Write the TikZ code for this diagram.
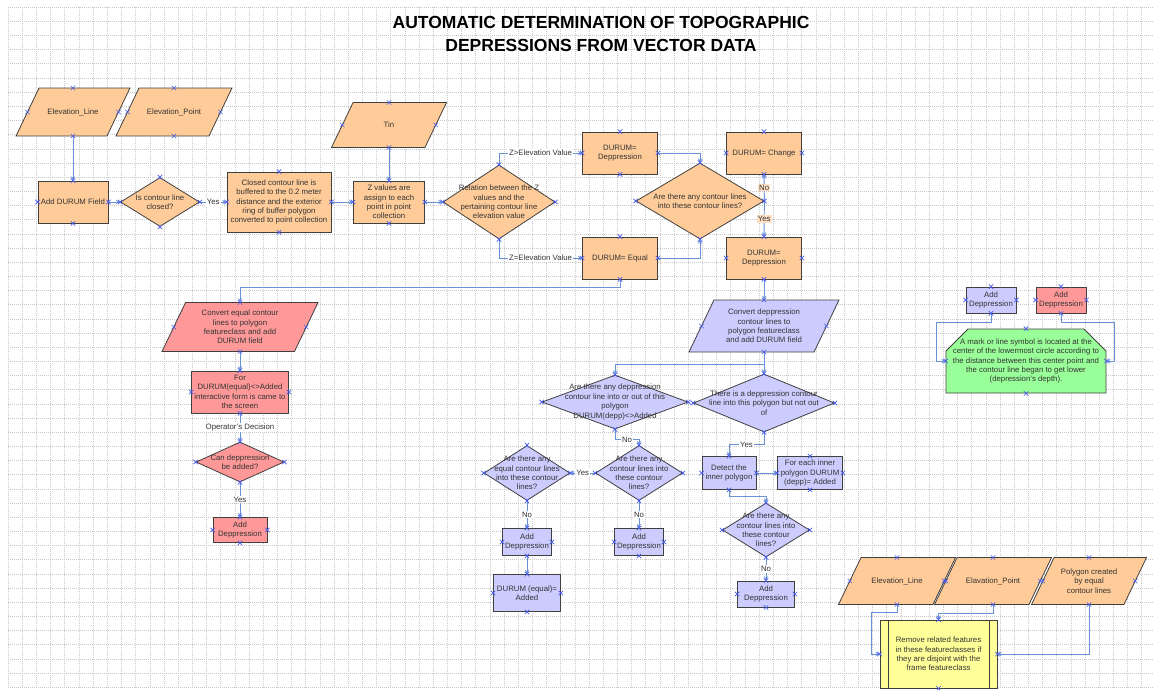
\documentclass[tikz,border=0pt]{standalone}
\usepackage{fontspec}
\setmainfont{Liberation Sans}
\usetikzlibrary{positioning, shapes.geometric, shapes.misc}

\definecolor{peach}{RGB}{255,204,153}
\definecolor{rose}{RGB}{255,153,153}
\definecolor{lilac}{RGB}{204,204,255}
\definecolor{mint}{RGB}{153,255,153}
\definecolor{lemon}{RGB}{255,255,153}
\definecolor{edge}{RGB}{64,64,64}
\definecolor{wire}{RGB}{105,145,215}
\definecolor{xblue}{RGB}{70,90,235}
\definecolor{gridgray}{RGB}{200,200,200}

% parallelogram whose slant follows its height
\makeatletter
\pgfdeclareshape{slanted}{%
  \inheritsavedanchors[from=rectangle]%
  \inheritanchorborder[from=rectangle]%
  \inheritanchor[from=rectangle]{center}%
  \inheritanchor[from=rectangle]{text}%
  \inheritanchor[from=rectangle]{north}%
  \inheritanchor[from=rectangle]{south}%
  \anchor{west}{%
    \northeast\pgf@yb=\pgf@y
    \southwest\pgf@xa=\pgf@x\pgf@ya=\pgf@y
    \pgf@x=\pgf@xa\advance\pgf@x by 0.24\pgf@yb\advance\pgf@x by -0.24\pgf@ya
    \pgf@y=.5\pgf@yb\advance\pgf@y by .5\pgf@ya}%
  \anchor{east}{%
    \southwest\pgf@ya=\pgf@y
    \northeast\pgf@xb=\pgf@x\pgf@yb=\pgf@y
    \pgf@x=\pgf@xb\advance\pgf@x by -0.24\pgf@yb\advance\pgf@x by 0.24\pgf@ya
    \pgf@y=.5\pgf@yb\advance\pgf@y by .5\pgf@ya}%
  \backgroundpath{%
    \southwest\pgf@xa=\pgf@x\pgf@ya=\pgf@y
    \northeast\pgf@xb=\pgf@x\pgf@yb=\pgf@y
    \pgf@xc=\pgf@yb\advance\pgf@xc by -\pgf@ya
    \pgf@xc=0.48\pgf@xc
    \edef\sl@left{\the\pgf@xa}\edef\sl@bot{\the\pgf@ya}%
    \edef\sl@right{\the\pgf@xb}\edef\sl@top{\the\pgf@yb}%
    \advance\pgf@xa by\pgf@xc\edef\sl@topleft{\the\pgf@xa}%
    \advance\pgf@xb by-\pgf@xc\edef\sl@botright{\the\pgf@xb}%
    \pgfpathmoveto{\pgfqpoint{\sl@left}{\sl@bot}}%
    \pgfpathlineto{\pgfqpoint{\sl@botright}{\sl@bot}}%
    \pgfpathlineto{\pgfqpoint{\sl@right}{\sl@top}}%
    \pgfpathlineto{\pgfqpoint{\sl@topleft}{\sl@top}}%
    \pgfpathclose}%
}
\makeatother

\begin{document}
\begin{tikzpicture}[
    x=1pt, y=-1pt,
    every node/.style={font=\fontsize{7.8}{9.4}\selectfont, text=black!80, align=center},
    process/.style={rectangle, draw=edge, fill=#1, line width=0.8pt, inner sep=1pt},
    iobox/.style={slanted, draw=edge, fill=#1, line width=0.8pt, inner sep=1pt, outer sep=0pt},
    decision/.style={diamond, draw=edge, fill=#1, line width=0.8pt, inner sep=0pt},
    predef/.style={rectangle, draw=edge, fill=#1, line width=0.8pt,
        path picture={\draw[edge, line width=0.8pt]
            ([xshift=8pt]path picture bounding box.north west) -- ([xshift=8pt]path picture bounding box.south west)
            ([xshift=-8pt]path picture bounding box.north east) -- ([xshift=-8pt]path picture bounding box.south east);}},
    remark/.style={chamfered rectangle, chamfered rectangle corners={north west, north east},
        chamfered rectangle xsep=9pt, chamfered rectangle ysep=13pt,
        inner xsep=-6pt, inner ysep=-8pt,
        draw=edge, fill=#1, line width=0.8pt},
    flow/.style={->, >=stealth, draw=wire, line width=0.9pt},
    flowlabel/.style={fill=white, inner sep=1pt},
    xmark/.style={draw=xblue, line width=0.6pt}
]

\useasboundingbox (0,0) rectangle (1153,689);
\foreach \i in {0,...,80}
    \draw[gridgray, dash pattern=on 1pt off 1pt, line width=0.4pt] ({8+14.17*\i},7) -- ({8+14.17*\i},689);
\foreach \j in {0,...,48}
    \draw[gridgray, dash pattern=on 1pt off 1pt, line width=0.4pt] (8,{7+14.17*\j}) -- (1153,{7+14.17*\j});

\node[font=\fontsize{17.5}{23}\selectfont\bfseries, text=black] (title) at (601,34)
    {AUTOMATIC DETERMINATION OF TOPOGRAPHIC\\DEPRESSIONS FROM VECTOR DATA};

\node[iobox=peach, minimum width=114, minimum height=48] (elevline) at (73,112) {Elevation\_Line};
\node[iobox=peach, minimum width=116, minimum height=48] (elevpoint) at (174,112) {Elevation\_Point};
\node[iobox=peach, minimum width=115, minimum height=45] (tin) at (389,125) {Tin};

\node[process=peach, minimum width=70, minimum height=42] (adddurum) at (73,202) {Add DURUM Field};
\node[decision=peach, minimum width=79, minimum height=49,
    label={center:{Is contour line\\closed?}}] (isclosed) at (160,202) {};
\node[process=peach, minimum width=104, minimum height=60] (closedbuf) at (279,202)
    {Closed contour line is\\buffered to the 0.2 meter\\distance and the exterior\\ring of buffer polygon\\converted to point collection};
\node[process=peach, minimum width=71, minimum height=42] (zvalues) at (389,202)
    {Z values are\\assign to each\\point in point\\collection};
\node[decision=peach, minimum width=112, minimum height=74,
    label={center:{Relation between the Z\\values and the\\pertaining contour line\\elevation value}}] (relation) at (499,202) {};

\node[process=peach, minimum width=75, minimum height=42] (durumdep) at (620,153) {DURUM=\\Deppression};
\node[process=peach, minimum width=75, minimum height=42] (durumeq) at (620,258) {DURUM= Equal};
\node[decision=peach, minimum width=128, minimum height=76,
    label={center:{Are there any contour lines\\into these contour lines?}}] (anylines) at (700,201) {};
\node[process=peach, minimum width=75, minimum height=42] (durumchange) at (764,153) {DURUM= Change};
\node[process=peach, minimum width=75, minimum height=42] (durumdep2) at (764,258) {DURUM=\\Deppression};

\node[iobox=rose, minimum width=156, minimum height=49] (convequal) at (240,327)
    {Convert equal contour\\lines to polygon\\featureclass and add\\DURUM field};
\node[process=rose, minimum width=97, minimum height=42] (fordurum) at (240,392)
    {For\\DURUM(equal)<>Added\\interactive form is came to\\the screen};
\node[decision=rose, minimum width=88, minimum height=40,
    label={center:{Can deppression\\be added?}}] (canadd) at (240,462) {};
\node[process=rose, minimum width=54, minimum height=25] (addred) at (240,530) {Add\\Deppression};

\node[iobox=lilac, minimum width=150, minimum height=52] (convdep) at (764,326)
    {Convert deppression\\contour lines to\\polygon featureclass\\and add DURUM field};
\node[decision=lilac, minimum width=146, minimum height=54,
    label={center:{Are there any deppression\\contour line into or out of this\\polygon\\DURUM(depp)<>Added}}] (deppinout) at (615,402) {};
\node[decision=lilac, minimum width=141, minimum height=58,
    label={center:{There is a deppression contour\\line into this polygon but not out\\of}}] (notout) at (764,403) {};
\node[decision=lilac, minimum width=86, minimum height=55,
    label={center:{Are there any\\equal contour lines\\into these contour\\lines?}}] (anyequal) at (527,473) {};
\node[decision=lilac, minimum width=87, minimum height=55,
    label={center:{Are there any\\contour lines into\\these contour\\lines?}}] (anylines2) at (639,473) {};
\node[process=lilac, minimum width=54, minimum height=33] (detect) at (729,473) {Detect the\\inner polygon};
\node[process=lilac, minimum width=65, minimum height=33] (eachinner) at (810,473)
    {For each inner\\polygon DURUM\\(depp)= Added};
\node[decision=lilac, minimum width=87, minimum height=54,
    label={center:{Are there any\\contour lines into\\these contour\\lines?}}] (anylines3) at (766,530) {};
\node[process=lilac, minimum width=49, minimum height=27] (addlav1) at (527,542) {Add\\Deppression};
\node[process=lilac, minimum width=67, minimum height=37] (equaladded) at (527,593) {DURUM (equal)=\\Added};
\node[process=lilac, minimum width=49, minimum height=27] (addlav2) at (639,542) {Add\\Deppression};
\node[process=lilac, minimum width=57, minimum height=26] (addlav3) at (766,594) {Add\\Deppression};

\node[process=lilac, minimum width=50, minimum height=26] (legendlav) at (991,300) {Add\\Deppression};
\node[process=rose, minimum width=50, minimum height=26] (legendred) at (1061,300) {Add\\Deppression};
\node[remark=mint, minimum width=160, minimum height=64] (note) at (1026,361)
    {A mark or line symbol is located at the\\center of the lowermost circle according to\\the distance between this center point and\\the contour line began to get lower\\(depression's depth).};

\node[iobox=peach, minimum width=117, minimum height=47] (elevline2) at (897,581) {Elevation\_Line};
\node[iobox=peach, minimum width=117, minimum height=47] (elevpoint2) at (993,581) {Elavation\_Point};
\node[iobox=peach, minimum width=115, minimum height=47] (polygon) at (1089,581)
    {Polygon created\\by equal\\contour lines};
\node[predef=lemon, minimum width=117, minimum height=68] (remove) at (938.5,654)
    {Remove related features\\in these featureclasses if\\they are disjoint with the\\frame featureclass};

\draw[flow] (elevline.south) -- (adddurum.north);
\draw[flow] (adddurum.east) -- (isclosed.west);
\draw[flow] (isclosed.east) -- node[flowlabel] {Yes} (closedbuf.west);
\draw[flow] (closedbuf.east) -- (zvalues.west);
\draw[flow] (tin.south) -- (zvalues.north);
\draw[flow] (zvalues.east) -- (relation.west);
\draw[flow] (relation.north) |- node[flowlabel, pos=0.75] {Z>Elevation Value} (durumdep.west);
\draw[flow] (relation.south) |- node[flowlabel, pos=0.75] {Z=Elevation Value} (durumeq.west);
\draw[flow] (durumdep.east) -| (anylines.north);
\draw[flow] (durumeq.east) -| (anylines.south);
\draw[flow] (anylines.east) -- node[flowlabel, fill=peach!60] {No} (durumchange.south);
\draw[flow] (anylines.east) -- node[flowlabel, fill=peach!60] {Yes} (durumdep2.north);

\draw[flow] (durumeq.south) -- ++(0,8) -| (convequal.north);
\draw[flow] (convequal.south) -- (fordurum.north);
\draw[flow] (fordurum.south) -- node[flowlabel] {Operator's Decision} (canadd.north);
\draw[flow] (canadd.south) -- node[flowlabel] {Yes} (addred.north);

\draw[flow] (durumdep2.south) -- (convdep.north);
\draw[flow] (convdep.south) -- ++(0,12) -| (deppinout.north);
\draw[flow] (convdep.south) -- (notout.north);
\draw[flow] (deppinout.south) -- ++(0,10) -| node[flowlabel, pos=0.25] {No} (anylines2.north);
\draw[flow] (notout.south) -- ++(0,12) -| node[flowlabel, pos=0.25] {Yes} (detect.north);
\draw[flow] (anylines2.west) -- node[flowlabel] {Yes} (anyequal.east);
\draw[flow] (anyequal.south) -- node[flowlabel] {No} (addlav1.north);
\draw[flow] (addlav1.south) -- (equaladded.north);
\draw[flow] (anylines2.south) -- node[flowlabel] {No} (addlav2.north);
\draw[flow] (detect.east) -- (eachinner.west);
\draw[flow] (detect.south) -- ++(0,7) -| (anylines3.north);
\draw[flow] (anylines3.south) -- node[flowlabel] {No} (addlav3.north);

\draw[flow] (legendlav.south) -- ++(0,9) -| ([xshift=-9pt]note.west) -- (note.west);
\draw[flow] (legendred.south) -- ++(0,9) -| ([xshift=8pt]note.east) -- (note.east);

\draw[flow] (elevline2.south) -- ++(0,8) -| ([xshift=-8pt]remove.west) -- (remove.west);
\draw[flow] (elevpoint2.south) -- ++(0,9) -| (remove.north);
\draw[flow] (polygon.south) |- (remove.east);

\foreach \n in {elevline, elevpoint, tin, adddurum, isclosed, closedbuf, zvalues, relation,
        durumdep, durumeq, anylines, durumchange, durumdep2, convequal, fordurum, canadd, addred,
        convdep, deppinout, notout, anyequal, anylines2, detect, eachinner, anylines3, addlav1,
        equaladded, addlav2, addlav3, legendlav, legendred, note, elevline2, elevpoint2, polygon, remove}
    \foreach \a in {north, south, east, west}
        \draw[xmark] (\n.\a) +(-2.2,-2.2) -- +(2.2,2.2) +(-2.2,2.2) -- +(2.2,-2.2);

\end{tikzpicture}
\end{document}
